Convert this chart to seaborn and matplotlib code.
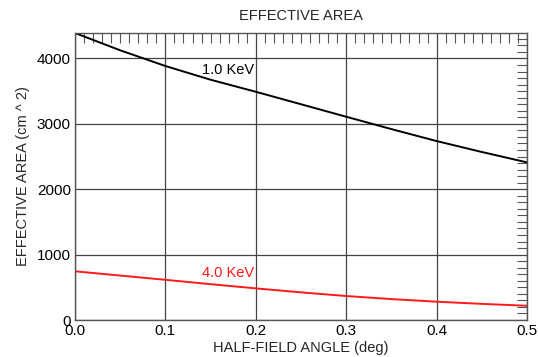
import matplotlib
matplotlib.use("Agg")
import matplotlib.pyplot as plt
from matplotlib.ticker import MultipleLocator
import numpy as np
import pandas as pd
import seaborn as sns

# values
angle = [0.0, 0.05, 0.1, 0.15, 0.2, 0.25, 0.3, 0.35, 0.4, 0.45, 0.5]
area_1kev = [4390, 4125, 3885, 3675, 3491, 3300, 3109, 2920, 2737, 2570, 2411]
area_4kev = [745, 680, 615, 548, 484, 423, 367, 320, 280, 247, 218]
energies = ["1.0 KeV", "4.0 KeV"]
colors = ["black", "#ff1a1a"]

df = pd.DataFrame({
    "angle": angle * 2,
    "area": area_1kev + area_4kev,
    "energy": [energies[0]] * len(angle) + [energies[1]] * len(angle),
})

sns.set_style("white")
plt.rcParams["font.family"] = ["Liberation Sans", "DejaVu Sans"]

fig = plt.figure(figsize=(5.38, 3.57), dpi=100)
ax = fig.add_axes([0.1394, 0.1036, 0.9796 - 0.1394, 0.9076 - 0.1036])

sns.lineplot(data=df, x="angle", y="area", hue="energy", palette=colors,
             linewidth=1.4, legend=False, ax=ax)

ax.set_xlim(0, 0.5)
ax.set_ylim(0, 4390)
ax.xaxis.set_major_locator(MultipleLocator(0.1))
ax.xaxis.set_minor_locator(MultipleLocator(0.01))
ax.yaxis.set_major_locator(MultipleLocator(1000))
ax.yaxis.set_minor_locator(MultipleLocator(100))
ax.xaxis.set_major_formatter(plt.FuncFormatter(lambda v, p: f"{v:.1f}"))
ax.grid(True, which="major", color="#444444", linewidth=0.9)
ax.tick_params(which="both", direction="in", top=True, right=True,
               colors="#555555", labelcolor="black", labelsize=11)
ax.tick_params(which="major", length=0, pad=3)
ax.tick_params(which="minor", length=7.5, width=0.8)
for s in ax.spines.values():
    s.set_color("#555555")
    s.set_linewidth(1.0)

ax.text(0.169, 3822, energies[0], color=colors[0], ha="center", va="center", fontsize=10.5)
ax.text(0.169, 719, energies[1], color=colors[1], ha="center", va="center", fontsize=10.5)

ax.set_title("EFFECTIVE AREA", fontsize=10.5, pad=9)
ax.set_xlabel("HALF-FIELD ANGLE (deg)", fontsize=10.5, labelpad=2)
ax.set_ylabel("EFFECTIVE AREA (cm ^ 2)", fontsize=10.5, labelpad=5)

fig.savefig("out.png", dpi=100)
